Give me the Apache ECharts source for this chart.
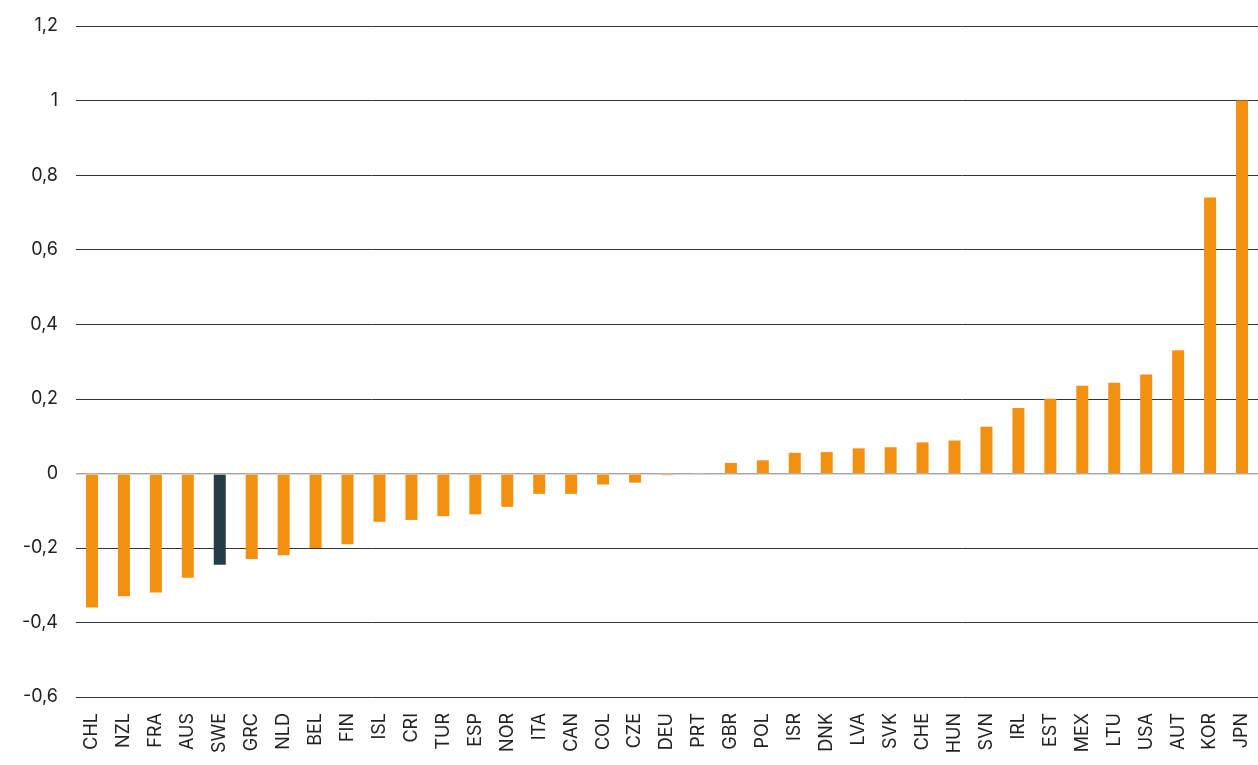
<!DOCTYPE html><html><head><meta charset="utf-8"><script src="https://cdn.jsdelivr.net/npm/echarts@6/dist/echarts.min.js"></script>
<style>html,body{margin:0;padding:0;background:#fff}#c{width:1258px;height:765px}</style></head><body><div id="c"></div><script>
const categories=["CHL","NZL","FRA","AUS","SWE","GRC","NLD","BEL","FIN","ISL","CRI","TUR","ESP","NOR","ITA","CAN","COL","CZE","DEU","PRT","GBR","POL","ISR","DNK","LVA","SVK","CHE","HUN","SVN","IRL","EST","MEX","LTU","USA","AUT","KOR","JPN"];
const values=[-0.36,-0.33,-0.32,-0.28,-0.245,-0.23,-0.22,-0.2,-0.19,-0.13,-0.125,-0.115,-0.11,-0.09,-0.055,-0.055,-0.03,-0.025,-0.005,-0.002,0.028,0.035,0.055,0.057,0.067,0.07,0.083,0.088,0.125,0.175,0.2,0.235,0.243,0.265,0.33,0.74,1.0];
const highlight="SWE";
const chart=echarts.init(document.getElementById('c'));
chart.setOption({animation:false,
grid:{left:76,top:26,right:-8,height:671},
xAxis:{type:'category',data:categories,axisTick:{show:false},axisLine:{show:false},
 axisLabel:{rotate:90,fontSize:18,color:'#222',fontFamily:'Inter',margin:16}},
yAxis:{type:'value',min:-0.6,max:1.2,interval:0.2,
 axisLabel:{fontSize:18,color:'#222',fontFamily:'Inter',margin:18,formatter:v=>String(+v.toFixed(1)).replace('.',',')},
 splitLine:{lineStyle:{color:'#333',width:1}}},
series:[{type:'bar',barWidth:12,
 data:values.map((v,i)=>({value:v,itemStyle:{color:categories[i]===highlight?'#243b48':'#f29111'}})),
 markLine:{silent:true,symbol:'none',label:{show:false},lineStyle:{color:'#ccc',type:'solid',width:1.5},data:[{yAxis:0}]}}]
});
</script></body></html>
